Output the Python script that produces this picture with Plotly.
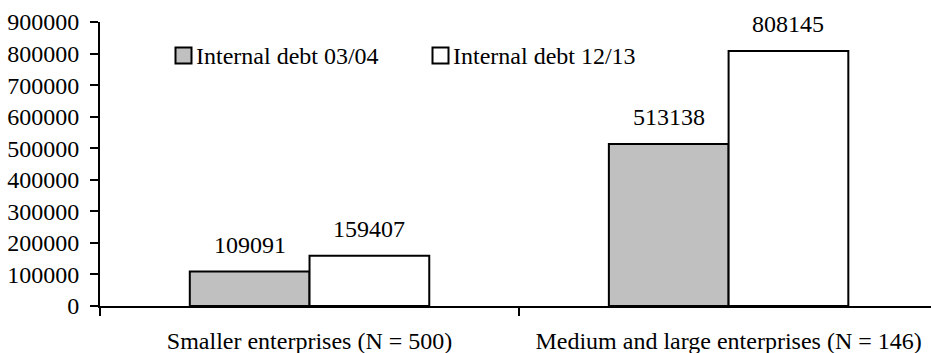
import plotly.graph_objects as go

# Enterprise size groups and internal debt for the two years
categories = ["Smaller enterprises (N = 500)", "Medium and large enterprises (N = 146)"]
series_names = ["Internal debt 03/04", "Internal debt 12/13"]
debt_0304 = [109091, 513138]
debt_1213 = [159407, 808145]
series_values = [debt_0304, debt_1213]
series_colors = ["#c0c0c0", "#ffffff"]
y_ticks = [0, 100000, 200000, 300000, 400000, 500000, 600000, 700000, 800000, 900000]

W, H = 931, 353
M_L, M_R, M_T, M_B = 100, 0, 22, 47
FONT = dict(family="Times New Roman", size=24, color="black")

fig = go.Figure()
for name, vals, col in zip(series_names, series_values, series_colors):
    fig.add_trace(go.Bar(
        name=name, x=categories, y=vals,
        marker=dict(color=col, line=dict(color="black", width=2)),
        showlegend=False,
    ))

# Value labels above each bar
bar_w = (1 - 0.4286) / 2
for s, vals in enumerate(series_values):
    off = (s - 0.5) * bar_w
    for i, v in enumerate(vals):
        fig.add_annotation(
            x=i + off, y=v, xref="x", yref="y",
            text=str(v), showarrow=False,
            xanchor="center", yanchor="bottom", yshift=12,
            font=FONT,
        )

# Legend drawn as boxed swatches with labels
plot_w = W - M_L - M_R
plot_h = H - M_T - M_B


def px_x(px):
    return (px - M_L) / plot_w


def px_y(py):
    return (H - M_B - py) / plot_h


legend_x = [175.5, 432.5]
for name, col, lx in zip(series_names, series_colors, legend_x):
    fig.add_shape(
        type="rect", xref="paper", yref="paper",
        x0=px_x(lx), x1=px_x(lx + 16), y0=px_y(63.5), y1=px_y(47.5),
        fillcolor=col, line=dict(color="black", width=2),
    )
    fig.add_annotation(
        x=px_x(lx + 18), y=px_y(55.5), xref="paper", yref="paper",
        text=name, showarrow=False, xanchor="left", yanchor="middle",
        font=FONT,
    )

fig.update_layout(
    width=W, height=H,
    margin=dict(l=M_L, r=M_R, t=M_T, b=M_B),
    paper_bgcolor="white", plot_bgcolor="white",
    barmode="group", bargap=0.4286, bargroupgap=0,
    font=FONT,
    showlegend=False,
)
fig.update_xaxes(
    type="category", range=[-0.5, 1.483],
    showline=True, linecolor="black", linewidth=2,
    ticks="outside", tickson="boundaries", ticklen=8, tickwidth=2, tickcolor="black",
    showgrid=False, zeroline=False, tickfont=FONT, ticklabelstandoff=12,
)
fig.update_yaxes(
    range=[0, 900000], tickvals=y_ticks, ticktext=[str(t) for t in y_ticks],
    showline=True, linecolor="black", linewidth=2,
    ticks="outside", ticklen=8, tickwidth=2, tickcolor="black",
    showgrid=False, zeroline=False, tickfont=FONT, ticklabelstandoff=6,
)

fig.write_html("out.html")
